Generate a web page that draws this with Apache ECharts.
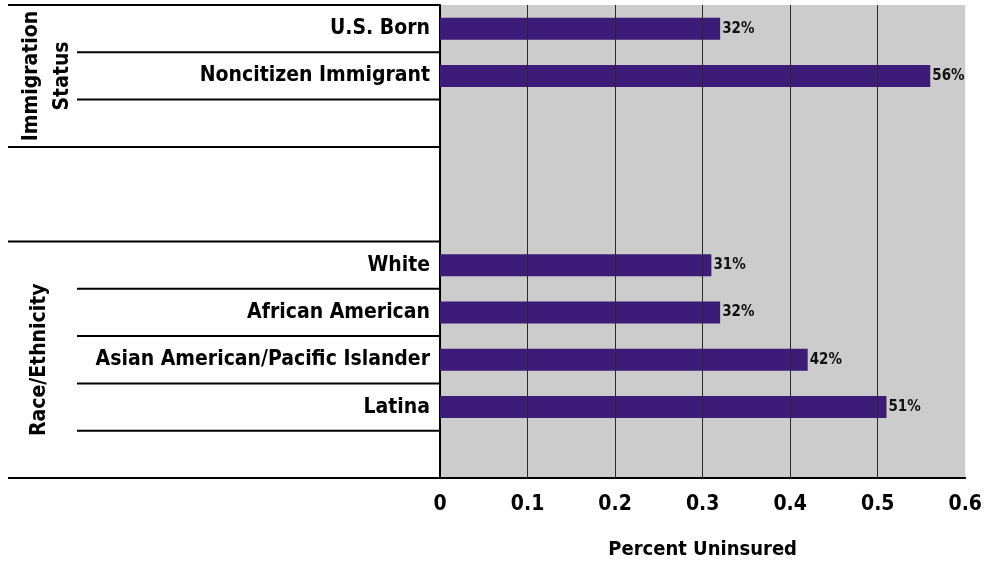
<!DOCTYPE html>
<html>
<head>
<meta charset="utf-8">
<script src="https://cdn.jsdelivr.net/npm/echarts@6/dist/echarts.min.js"></script>
<style>
  html, body { margin: 0; padding: 0; background: #ffffff; }
  #chart { width: 985px; height: 565px; }
</style>
</head>
<body>
<div id="chart"></div>
<script>
// Rows of the chart, top to bottom; empty strings are spacer rows.
const categories = [
  'U.S. Born',
  'Noncitizen Immigrant',
  '',
  '',
  '',
  'White',
  'African American',
  'Asian American/Pacific Islander',
  'Latina',
  ''
];
// Share uninsured for each row (null = spacer row).
const uninsuredRate = [0.32, 0.56, null, null, null, 0.31, 0.32, 0.42, 0.51, null];
// Value-axis ticks.
const xTicks = [0, 0.1, 0.2, 0.3, 0.4, 0.5, 0.6];
// Row groups: label, first row, last row.
const groups = [
  { name: 'Immigration\nStatus', from: 0, to: 2 },
  { name: 'Race/Ethnicity', from: 5, to: 9 }
];
// Row boundaries that get a full-width rule vs. a short rule.
const fullRules = [0, 3, 5];
const shortRules = [1, 2, 6, 7, 8, 9];

const FONT = "'Liberation Sans Narrow', 'DejaVu Sans Condensed', 'Arial Narrow', sans-serif";
const chart = echarts.init(document.getElementById('chart'));

chart.setOption({
  animation: false,
  backgroundColor: '#ffffff',
  grid: {
    left: 440, right: 19, top: 5, bottom: 82,
    show: true, backgroundColor: '#cccccc', borderWidth: 0
  },
  xAxis: {
    type: 'value',
    min: xTicks[0],
    max: xTicks[xTicks.length - 1],
    interval: xTicks[1] - xTicks[0],
    axisLine: { show: true, lineStyle: { color: '#000', width: 2 } },
    axisTick: { show: false },
    splitLine: { show: false },
    axisLabel: {
      color: '#000', fontFamily: FONT, fontWeight: 'bold', fontSize: 21, margin: 16,
      formatter: v => String(+v.toFixed(1))
    },
    name: 'Percent Uninsured',
    nameLocation: 'middle',
    nameGap: 62,
    nameTextStyle: { color: '#000', fontFamily: FONT, fontWeight: 'bold', fontSize: 20 }
  },
  yAxis: {
    type: 'category',
    inverse: true,
    data: categories,
    axisLine: { show: true, lineStyle: { color: '#000', width: 2 } },
    axisTick: { show: false },
    axisLabel: {
      color: '#000', fontFamily: FONT, fontWeight: 'bold', fontSize: 21, margin: 10,
      interval: 0
    }
  },
  series: [{
    type: 'bar',
    data: uninsuredRate,
    barWidth: 22,
    itemStyle: { color: '#3d1b79' },
    label: {
      show: true,
      position: 'right',
      distance: 2,
      color: '#111',
      fontFamily: FONT,
      fontWeight: 'bold',
      fontSize: 15,
      formatter: p => Math.round(p.value * 100) + '%'
    },
    markLine: {
      silent: true,
      symbol: 'none',
      label: { show: false },
      lineStyle: { color: '#2a2a2a', width: 1, type: 'solid' },
      data: xTicks.slice(1, -1).map(v => ({ xAxis: v }))
    }
  }]
});

// Table rules and group titles to the left of the plot, placed from the category scale.
const centers = categories.map((c, i) => chart.convertToPixel({ yAxisIndex: 0 }, i));
const band = centers[1] - centers[0];
const boundary = k => (k < categories.length ? centers[k] - band / 2 : centers[categories.length - 1] + band / 2);
const axisX = chart.convertToPixel({ xAxisIndex: 0 }, 0);
const fullStart = 8;
const shortStart = 77;

const graphics = [];
const rule = (x1, y) => graphics.push({
  type: 'line', silent: true,
  shape: { x1: x1, y1: y, x2: axisX, y2: y },
  style: { stroke: '#000', lineWidth: 2 }
});
fullRules.forEach(k => rule(fullStart, boundary(k)));
shortRules.forEach(k => rule(shortStart, boundary(k)));
rule(fullStart, boundary(categories.length));

groups.forEach(g => {
  const yMid = (boundary(g.from) + boundary(g.to + 1)) / 2;
  graphics.push({
    type: 'text', silent: true,
    x: g.name.indexOf('\n') >= 0 ? 47 : 40, y: yMid,
    rotation: Math.PI / 2,
    style: {
      text: g.name,
      fill: '#000',
      font: 'bold 21px ' + FONT,
      lineHeight: 31,
      textAlign: 'center',
      textVerticalAlign: 'middle'
    }
  });
});

chart.setOption({ graphic: graphics });
</script>
</body>
</html>
